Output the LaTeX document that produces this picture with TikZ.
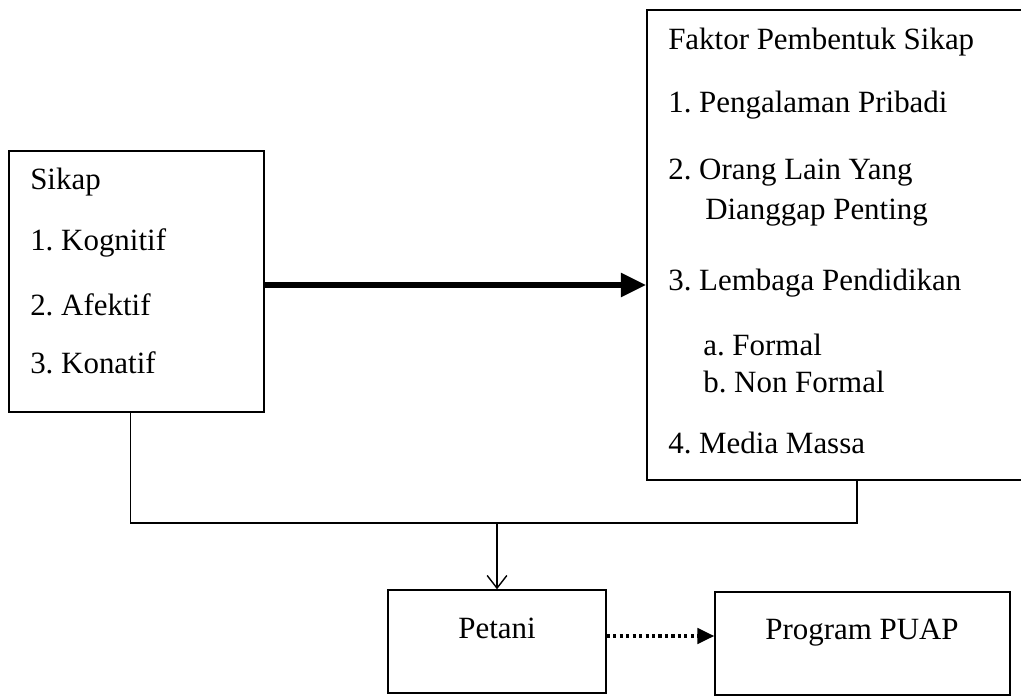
\documentclass[tikz,border=0pt]{standalone}
\usepackage{fontspec}
\setmainfont{Liberation Serif}
\usepackage{tikz}
\usetikzlibrary{arrows,arrows.meta,positioning,calc}
\frenchspacing

\begin{document}
\begin{tikzpicture}[
    x=0.025cm, y=-0.025cm,
    box/.style={rectangle, draw, line width=1pt, inner sep=0pt},
    txt/.style={anchor=west, inner sep=0pt, font=\fontsize{22}{26}\selectfont},
    ctxt/.style={inner sep=0pt, font=\fontsize{22}{26}\selectfont},
    link/.style={line width=1pt},
    bigarr/.style={line width=4.5pt, -{Triangle[length=18pt, width=16pt]}},
    dotarr/.style={line width=2.2pt, dash pattern=on 2.2pt off 2.4pt, -{Triangle[length=12pt, width=11pt]}},
  ]
  \useasboundingbox (0,0) rectangle (1021,696);
  \clip (0,0) rectangle (1021,696);

  % Sikap
  \node[box, minimum width=6.375cm, minimum height=6.525cm] (sikap) at (136.5, 281.5) {};
  \node[txt] (s0) at (30, 182) {Sikap};
  \node[txt] (s1) at (30, 243) {1. Kognitif};
  \node[txt] (s2) at (30, 305) {2. Afektif};
  \node[txt] (s3) at (30, 363) {3. Konatif};

  % Faktor pembentuk sikap
  \node[box, minimum width=10.5cm, minimum height=11.75cm] (fk) at (857, 245) {};
  \node[txt] (f0) at (668, 42) {Faktor Pembentuk Sikap};
  \node[txt] (f1) at (668, 105) {1. Pengalaman Pribadi};
  \node[txt] (f2) at (668, 173) {2. Orang Lain Yang};
  \node[txt] (f2b) at (705, 213) {Dianggap Penting};
  \node[txt] (f3) at (668, 283) {3. Lembaga Pendidikan};
  \node[txt] (f3a) at (703, 345) {a. Formal};
  \node[txt] (f3b) at (703, 382) {b. Non Formal};
  \node[txt] (f4) at (668, 443) {4. Media Massa};

  % Petani and program
  \node[box, minimum width=5.45cm, minimum height=2.575cm] (petani) at (497, 641.5) {};
  \node[ctxt] (petanit) at (497, 628) {Petani};
  \node[box, minimum width=7.375cm, minimum height=2.575cm] (puap) at (862.5, 643.5) {};
  \node[ctxt] (puapt) at (862, 633) {Program PUAP};

  \coordinate (j) at (497, 523);

  \draw[bigarr] (sikap.east |- 0,285) -- (fk.west |- 0,285);
  \draw[link] ($(sikap.south)+(-6,0)$) |- (j) -| (fk.south);
  \draw[link, -{Straight Barb[length=9pt, width=14pt, line width=1pt]}] (j) -- (petani.north);
  \draw[dotarr] (petani.east |- 0,636) -- (puap.west |- 0,636);

\end{tikzpicture}
\end{document}
